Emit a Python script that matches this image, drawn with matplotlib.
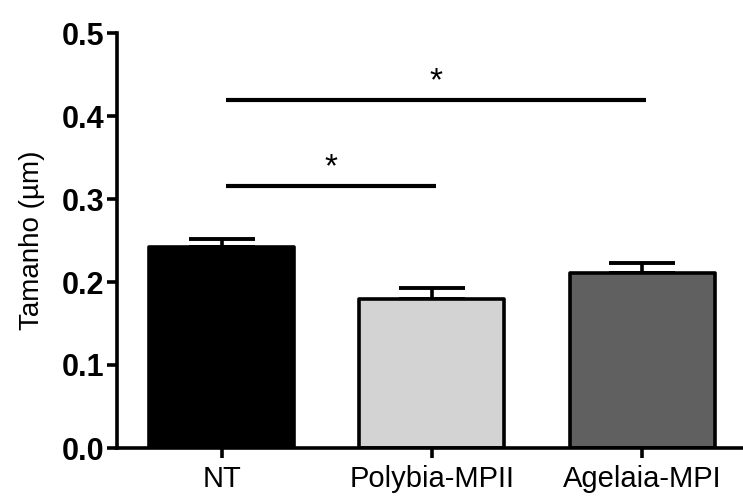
import matplotlib.pyplot as plt

# data
groups = ['NT', 'Polybia-MPII', 'Agelaia-MPI']
means = [0.242, 0.179, 0.211]
errors = [0.010, 0.014, 0.012]
bar_colors = ['#000000', '#d3d3d3', '#606060']

# significance brackets: (start group, end group, height)
sig_pairs = [(0, 1, 0.316), (0, 2, 0.419)]

plt.rcParams['font.family'] = ['Liberation Sans', 'DejaVu Sans']

fig = plt.figure(figsize=(7.43, 5), dpi=100)
ax = fig.add_axes([0.157, 0.104, 0.843, 0.83])

x = list(range(len(groups)))
ax.bar(x, means, width=0.69, color=bar_colors, edgecolor='black',
       linewidth=2.6, joinstyle='round', zorder=2)
ax.errorbar(x, means, yerr=[[0] * len(errors), errors], fmt='none',
            ecolor='black', elinewidth=2.6, capsize=24, capthick=2.8, zorder=1)

for a, b, h in sig_pairs:
    ax.plot([x[a] + 0.02, x[b] + 0.02], [h, h], color='black', lw=3,
            solid_capstyle='butt')
    ax.text((x[a] + x[b]) / 2 + 0.02, h + 0.003, '*', ha='center', va='bottom',
            fontsize=24)

ax.set_xlim(-0.5, 2.48)
ax.set_ylim(0, 0.5)
ax.set_yticks([0.0, 0.1, 0.2, 0.3, 0.4, 0.5])
ax.set_yticklabels(['0.0', '0.1', '0.2', '0.3', '0.4', '0.5'],
                   fontweight='bold', fontsize=22)
ax.set_xticks(x)
ax.set_xticklabels(groups, fontsize=21)
ax.set_ylabel('Tamanho (µm)', fontsize=20, labelpad=12)

ax.spines['top'].set_visible(False)
ax.spines['right'].set_visible(False)
ax.spines['left'].set_linewidth(2.6)
ax.spines['bottom'].set_linewidth(2.6)
ax.tick_params(axis='both', length=7, width=2.6, pad=2)
ax.tick_params(axis='x', pad=5)

fig.savefig('out.png', dpi=100)
